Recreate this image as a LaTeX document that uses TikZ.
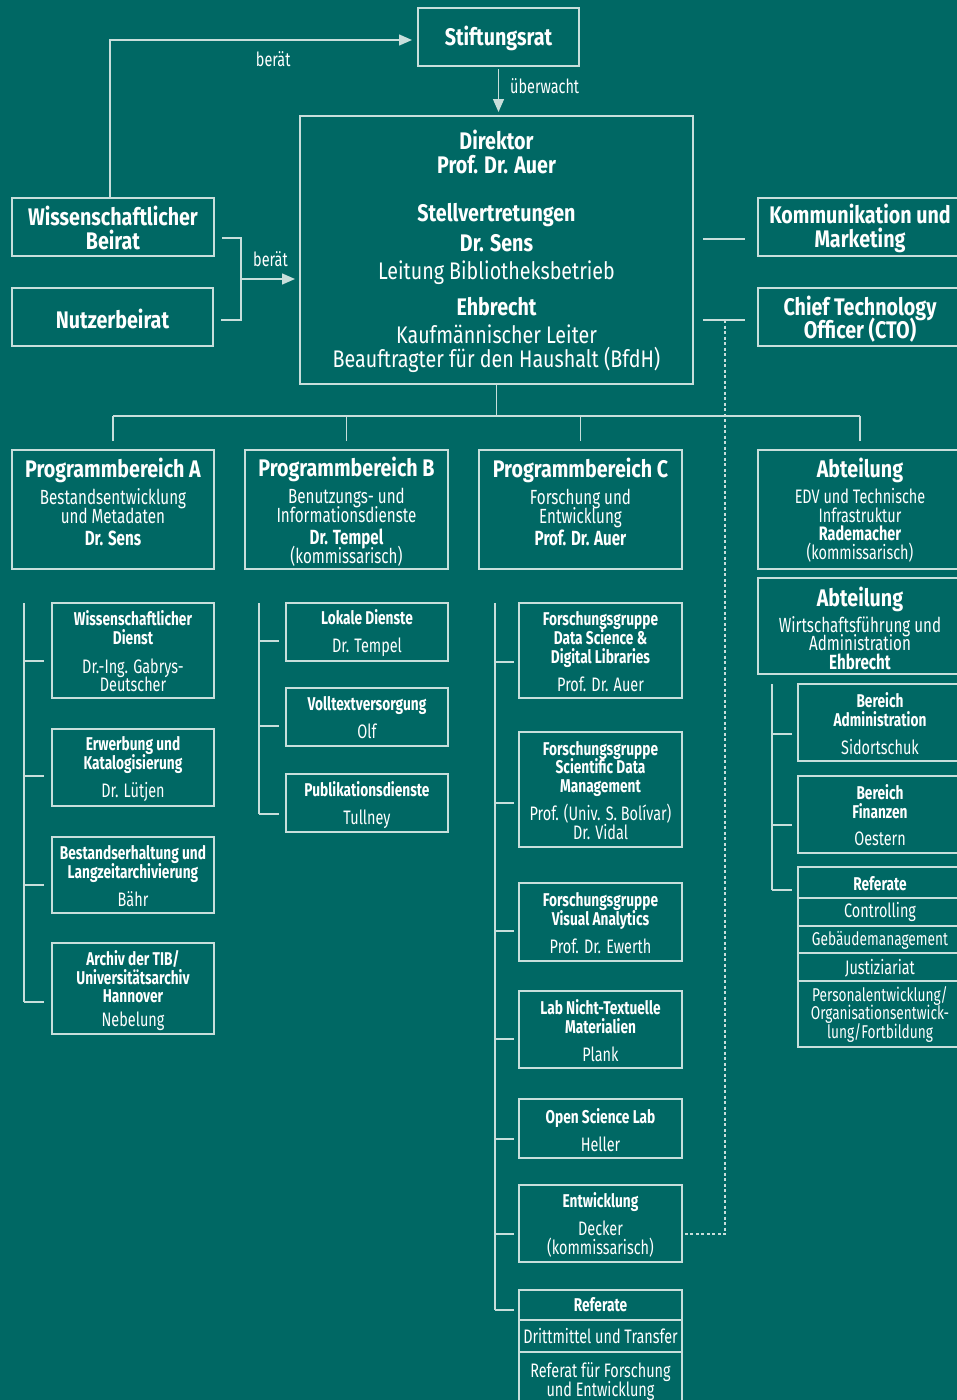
\documentclass[tikz,border=0pt]{standalone}
\usepackage{fontspec}
\setmainfont{Fira Sans}[FakeStretch=0.74]
\newfontfamily\widefont{Fira Sans}[FakeStretch=0.82]
\usetikzlibrary{arrows.meta,positioning}
\definecolor{tibteal}{RGB}{0,104,100}
\definecolor{tibline}{RGB}{200,222,219}

\newcommand{\txtfont}{\lineskiplimit=-1000pt\lineskip=0pt\fontsize{19.5}{0}\selectfont}
\newcommand{\hd}{\widefont\fontsize{24}{0}\selectfont\bfseries}
\newcommand{\hdr}{\widefont\fontsize{24}{0}\selectfont}
\newcommand{\md}{\fontsize{20.5}{0}\selectfont}
\newcommand{\sm}{\fontsize{18.5}{0}\selectfont}
\newcommand{\sbhd}{\fontsize{18.5}{0}\selectfont\bfseries}

\tikzset{
    box/.style={draw=tibline, line width=1.4pt, outer sep=0pt, inner sep=0pt},
    txt/.style={align=center, inner sep=0pt, text=white, font=\txtfont},
    line/.style={draw=tibline, line width=1.4pt},
    arrow/.style={line, -{Triangle[length=13pt,width=11pt]}},
    dashline/.style={draw=tibline, line width=1.2pt, dash pattern=on 3pt off 2.5pt},
    lbl/.style={inner sep=0pt, text=white, font=\fontsize{19.5}{0}\selectfont}
}

% box: name, left, top, right, bottom, text centre, text
\newcommand{\orgbox}[7]{%
    \node[box, minimum width={(#4-#2)*1pt}, minimum height={(#5-#3)*1pt}] (#1) at ({(#2+#4)/2},{(#3+#5)/2}) {};
    \node[txt] (#1-t) at ({(#2+#4)/2},#6) {#7};
}

\begin{document}
\begin{tikzpicture}[x=1pt, y=-1pt]
    \useasboundingbox (0,0) rectangle (957,1400);
    \fill[tibteal] (0,0) rectangle (957,1400);
    \clip (0,0) rectangle (957,1400);

    % Leitung
    \orgbox{stift}{418}{8}{579}{66}{38}{{\hd Stiftungsrat}}
    \orgbox{dir}{300}{116}{693}{384}{251}{{\hd Direktor}\\[24pt]{\hd Prof. Dr. Auer}\\[48pt]{\hd Stellvertretungen}\\[30pt]{\hd Dr. Sens}\\[28pt]{\hdr Leitung Bibliotheksbetrieb}\\[36pt]{\hd Ehbrecht}\\[28pt]{\hdr Kaufmännischer Leiter}\\[24pt]{\hdr Beauftragter für den Haushalt (BfdH)}}
    \orgbox{wbeirat}{12}{198}{214}{256}{228}{{\hd Wissenschaftlicher}\\[24pt]{\hd Beirat}}
    \orgbox{nbeirat}{12}{288}{213}{346}{319}{{\hd Nutzerbeirat}}
    \orgbox{kom}{758}{198}{962}{256}{228}{{\hd Kommunikation und}\\[24pt]{\hd Marketing}}
    \orgbox{cto}{758}{288}{962}{346}{319.5}{{\hd Chief Technology}\\[23pt]{\hd Officer (CTO)}}

    % Programmbereiche und Abteilungen
    \orgbox{pba}{12}{450}{214}{569}{502}{{\hd Programmbereich A}\\[27pt]{\md Bestandsentwicklung}\\[19pt]{\md und Metadaten}\\[22pt]{\md\bfseries Dr. Sens}}
    \orgbox{pbb}{245}{450}{448}{569}{511.5}{{\hd Programmbereich B}\\[27pt]{\md Benutzungs- und}\\[19pt]{\md Informationsdienste}\\[22pt]{\md\bfseries Dr. Tempel}\\[19pt]{\md (kommissarisch)}}
    \orgbox{pbc}{479}{450}{682}{569}{502}{{\hd Programmbereich C}\\[27pt]{\md Forschung und}\\[19pt]{\md Entwicklung}\\[22pt]{\md\bfseries Prof. Dr. Auer}}
    \orgbox{edv}{758}{450}{962}{569}{510}{{\hd Abteilung}\\[26pt]EDV und Technische\\[19pt]Infrastruktur\\[18pt]{\bfseries Rademacher}\\[19pt](kommissarisch)}
    \orgbox{wa}{758}{578}{962}{674}{628.5}{{\hd Abteilung}\\[26pt]{\md Wirtschaftsführung und}\\[18pt]{\md Administration}\\[19pt]{\md\bfseries Ehbrecht}}

    % Programmbereich A
    \orgbox{wd}{52}{603}{214}{698}{651.5}{{\sbhd Wissenschaftlicher}\\[19pt]{\sbhd Dienst}\\[29pt]Dr.-Ing. Gabrys-\\[18pt]Deutscher}
    \orgbox{erw}{52}{729}{214}{806}{769.5}{{\sbhd Erwerbung und}\\[19pt]{\sbhd Katalogisierung}\\[28pt]Dr. Lütjen}
    \orgbox{best}{52}{837}{214}{913}{876.5}{{\sbhd Bestandserhaltung und}\\[19pt]{\sbhd Langzeitarchivierung}\\[28pt]Bähr}
    \orgbox{arch}{52}{943}{214}{1034}{990.5}{{\sbhd Archiv der TIB/}\\[19pt]{\sbhd Universitätsarchiv}\\[18pt]{\sbhd Hannover}\\[24pt]Nebelung}

    % Programmbereich B
    \orgbox{lok}{286}{603}{448}{661}{633}{{\sbhd Lokale Dienste}\\[28pt]Dr. Tempel}
    \orgbox{vol}{286}{688}{448}{746}{718}{{\sbhd Volltextversorgung}\\[28pt]Olf}
    \orgbox{pub}{286}{774}{448}{832}{805}{{\sbhd Publikationsdienste}\\[28pt]Tullney}

    % Programmbereich C
    \orgbox{fgds}{519}{603}{682}{698}{652}{{\sbhd Forschungsgruppe}\\[19pt]{\sbhd Data Science \&}\\[19pt]{\sbhd Digital Libraries}\\[28pt]Prof. Dr. Auer}
    \orgbox{sdm}{519}{732}{682}{847}{791}{{\sbhd Forschungsgruppe}\\[18pt]{\sbhd Scientific Data}\\[19pt]{\sbhd Management}\\[28pt]Prof. (Univ. S. Bolívar)\\[19pt]Dr. Vidal}
    \orgbox{va}{519}{883}{682}{961}{923.5}{{\sbhd Forschungsgruppe}\\[19pt]{\sbhd Visual Analytics}\\[28pt]Prof. Dr. Ewerth}
    \orgbox{lab}{519}{991}{682}{1068}{1030.5}{{\sbhd Lab Nicht-Textuelle}\\[19pt]{\sbhd Materialien}\\[28pt]Plank}
    \orgbox{osl}{519}{1099}{682}{1158}{1130}{{\sbhd Open Science Lab}\\[28pt]Heller}
    \orgbox{entw}{519}{1185}{682}{1262}{1224.5}{{\sbhd Entwicklung}\\[28pt]Decker\\[19pt](kommissarisch)}
    \orgbox{refc}{519}{1290}{682}{1320}{1305}{{\sbhd Referate}}
    \orgbox{refc2}{519}{1320}{682}{1352}{1336}{Drittmittel und Transfer}
    \orgbox{refc3}{519}{1352}{682}{1412}{1381.5}{Referat für Forschung\\[19pt]und Entwicklung}

    % Abteilung Wirtschaftsfuehrung
    \orgbox{adm}{798}{684}{962}{761}{723.5}{{\sbhd Bereich}\\[19pt]{\sbhd Administration}\\[28pt]Sidortschuk}
    \orgbox{fin}{798}{776}{962}{853}{815}{{\sbhd Bereich}\\[19pt]{\sbhd Finanzen}\\[27pt]Oestern}
    \orgbox{refa}{798}{867}{962}{898}{884}{{\sbhd Referate}}
    \orgbox{refa2}{798}{898}{962}{926}{912}{Controlling}
    \orgbox{refa3}{798}{926}{962}{953}{940}{{\sm Gebäudemanagement}}
    \orgbox{refa4}{798}{953}{962}{981}{968}{Justiziariat}
    \orgbox{refa5}{798}{981}{962}{1047}{1014}{{\sm Personalentwicklung/}\\[18pt]{\sm Organisationsentwick-}\\[19pt]{\sm lung/Fortbildung}}

    % Beratung und Aufsicht
    \draw[arrow, shorten >=6pt] ([xshift=-3pt]wbeirat.north) |- ([yshift=-3pt]stift.west)
        node[lbl, pos=0.765, below=11pt] {berät};
    \draw[arrow, shorten <=3pt, shorten >=4pt] (stift.south) -- (stift.south |- dir.north)
        node[lbl, pos=0.4, right=11pt] {überwacht};
    \draw[line] ([xshift=8pt,yshift=-11pt]wbeirat.east) -- ++(19,0) |- ([xshift=8pt,yshift=-3pt]nbeirat.east);
    \coordinate (brmid) at (241,279);
    \draw[arrow, shorten >=5pt] (brmid) -- (brmid -| dir.west) node[lbl, midway, above=12pt] {berät};

    % Stabsstellen
    \coordinate (komc) at ([yshift=-12pt]kom.west);
    \coordinate (ctoc) at ([yshift=-3pt]cto.west);
    \draw[line, shorten <=10pt, shorten >=13pt] (dir.east |- komc) -- (komc);
    \draw[line, shorten <=10pt, shorten >=13pt] (dir.east |- ctoc) -- (ctoc);
    \coordinate (ctoj) at ([xshift=-33pt]ctoc);
    \draw[dashline] (ctoj) |- ([yshift=-10.5pt]entw.east);

    % Baum
    \draw[line] (dir.south) -- ++(0,32) coordinate (bus);
    \draw[line] (pba.north |- bus) -- (edv.north |- bus);
    \foreach \n in {pba,pbb,pbc,edv}
        \draw[line] ([yshift=9pt]\n.north) -- (\n.north |- bus);

    \draw[line] ([xshift=-28pt]wd.north west) -- ([xshift=-28pt,yshift=-13.5pt]arch.west);
    \foreach \n/\dy in {wd/10.5,erw/8.5,best/10,arch/13.5}
        \draw[line] ([xshift=-8pt]\n.west) ++(0,\dy) -- ++(-20,0);

    \draw[line] ([xshift=-27pt]lok.north west) -- ([xshift=-27pt,yshift=-11pt]pub.west);
    \foreach \n/\dy in {lok/9,vol/9,pub/11}
        \draw[line] ([xshift=-7pt]\n.west) ++(0,\dy) -- ++(-20,0);

    \draw[line] ([xshift=-24pt]fgds.north west) -- ([xshift=-24pt,yshift=-5pt]refc.west);
    \foreach \n/\dy in {fgds/11.5,sdm/13.5,va/9,lab/9.5,osl/10.5,entw/10.5,refc/5}
        \draw[line] ([xshift=-5pt]\n.west) ++(0,\dy) -- ++(-19,0);

    \draw[line] ([xshift=-26pt]adm.north west) -- ([xshift=-26pt,yshift=-7.5pt]refa.west);
    \foreach \n/\dy in {adm/11.5,fin/10.5,refa/7.5}
        \draw[line] ([xshift=-6pt]\n.west) ++(0,\dy) -- ++(-20,0);
\end{tikzpicture}
\end{document}
